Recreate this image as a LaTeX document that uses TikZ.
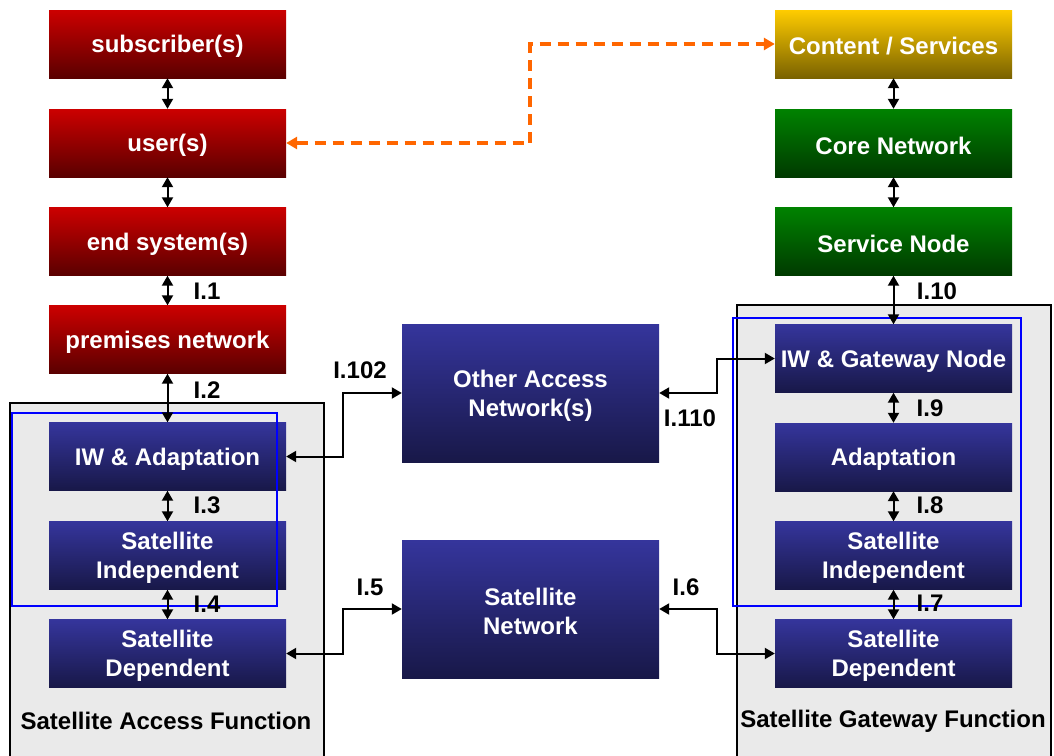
\documentclass[tikz,border=0pt]{standalone}
\usepackage{fontspec}
\setmainfont{Liberation Sans}
\usetikzlibrary{arrows.meta}
\definecolor{redT}{HTML}{CC0000}
\definecolor{redB}{HTML}{5A0000}
\definecolor{bluT}{HTML}{35359C}
\definecolor{bluB}{HTML}{181848}
\definecolor{grnT}{HTML}{008200}
\definecolor{grnB}{HTML}{003A00}
\definecolor{ylwT}{HTML}{FFCC00}
\definecolor{ylwB}{HTML}{7A6200}
\definecolor{panel}{HTML}{EAEAEA}
\definecolor{orng}{HTML}{FF6600}
\tikzset{
  fnt/.style={font=\bfseries\fontsize{24}{29}\selectfont},
  blk/.style={inner sep=0pt, minimum width=237pt, minimum height=68pt},
  txt/.style={fnt, text=white, align=center, inner sep=0pt, yshift=-2.5pt},
  redbox/.style={blk, top color=redT, bottom color=redB},
  blubox/.style={blk, top color=bluT, bottom color=bluB},
  grnbox/.style={blk, top color=grnT, bottom color=grnB},
  ylwbox/.style={blk, top color=ylwT, bottom color=ylwB},
  midbox/.style={blubox, minimum width=257pt, minimum height=138pt},
  lbl/.style={fnt, text=black, inner sep=0pt},
  tip/.style={Triangle[length=10pt,width=11pt]},
  link/.style={line width=2pt, {Triangle[length=10pt,width=11pt]}-{Triangle[length=10pt,width=11pt]}},
  dlink/.style={line width=3.5pt, orng, dash pattern=on 11pt off 7pt, {Triangle[length=11pt,width=12pt]}-{Triangle[length=11pt,width=12pt]}},
  panelbox/.style={fill=panel, draw=black, line width=1.5pt},
  grp/.style={draw=blue, line width=1.5pt}
}
\begin{document}
\begin{tikzpicture}[x=1pt,y=-1pt]
\useasboundingbox (0,0) rectangle (1054,755);
\clip (0,0) rectangle (1054,755);
% panels
\draw[panelbox] (10,403) rectangle (324,770);
\draw[panelbox] (737,305) rectangle (1051,770);
\node[lbl] (saf) at (166,721) {Satellite Access Function};
\node[lbl] (sgf) at (893,721) {Satellite Gateway Function};
% left column
\node[redbox, label={[txt]center:subscriber(s)}] (sub) at (167.5,44) {};
\node[redbox, label={[txt]center:user(s)}] (user) at (167.5,143) {};
\node[redbox, label={[txt]center:end system(s)}] (endsys) at (167.5,241.5) {};
\node[redbox, label={[txt]center:premises network}] (prem) at (167.5,339.5) {};
\node[blubox, label={[txt]center:IW \& Adaptation}] (iwad) at (167.5,456.5) {};
\node[blubox, label={[txt]center:Satellite\\Independent}] (sind) at (167.5,555.5) {};
\node[blubox, label={[txt]center:Satellite\\Dependent}] (sdep) at (167.5,653.5) {};
% right column
\node[ylwbox, label={[txt]center:Content / Services}] (content) at (893.5,44) {};
\node[grnbox, label={[txt]center:Core Network}] (core) at (893.5,143) {};
\node[grnbox, label={[txt]center:Service Node}] (service) at (893.5,241.5) {};
\node[blubox, label={[txt]center:IW \& Gateway Node}] (iwgw) at (893.5,358.5) {};
\node[blubox, label={[txt]center:Adaptation}] (adapt) at (893.5,457) {};
\node[blubox, label={[txt]center:Satellite\\Independent}] (rsind) at (893.5,555.5) {};
\node[blubox, label={[txt]center:Satellite\\Dependent}] (rsdep) at (893.5,653.5) {};
% middle
\node[midbox, label={[txt]center:Other Access\\Network(s)}] (oan) at (530.5,393) {};
\node[midbox, label={[txt]center:Satellite\\Network}] (satnet) at (530.5,609) {};
% group outlines
\draw[grp] (12,413) rectangle (277,606);
\draw[grp] (733,318) rectangle (1021,606);
% vertical links
\draw[link] (sub.south) -- (user.north);
\draw[link] (user.south) -- (endsys.north);
\draw[link] (endsys.south) -- (prem.north);
\draw[link] (prem.south) -- (iwad.north);
\draw[link] (iwad.south) -- (sind.north);
\draw[link] (sind.south) -- (sdep.north);
\draw[link] (content.south) -- (core.north);
\draw[link] (core.south) -- (service.north);
\draw[link] (service.south) -- (iwgw.north);
\draw[link] (iwgw.south) -- (adapt.north);
\draw[link] (adapt.south) -- (rsind.north);
\draw[link] (rsind.south) -- (rsdep.north);
% horizontal links
\draw[link] (iwad.east) -- ++(57,0) |- (oan.west);
\draw[link] (oan.east) -- ++(58,0) |- (iwgw.west);
\draw[link] (sdep.east) -- ++(57,0) |- (satnet.west);
\draw[link] (satnet.east) -- ++(58,0) |- (rsdep.west);
\draw[dlink] (user.east) -- ++(244,0) |- (content.west);
% labels
\node[lbl] (l1) at (207,291) {I.1};
\node[lbl] (l2) at (207,390) {I.2};
\node[lbl] (l3) at (207,505) {I.3};
\node[lbl] (l4) at (207,604) {I.4};
\node[lbl] (l10) at (937,291) {I.10};
\node[lbl] (l9) at (930,408) {I.9};
\node[lbl] (l8) at (930,505) {I.8};
\node[lbl] (l7) at (930,603) {I.7};
\node[lbl] (l102) at (360,370) {I.102};
\node[lbl] (l110) at (690,418) {I.110};
\node[lbl] (l5) at (370,587) {I.5};
\node[lbl] (l6) at (686,587) {I.6};
\end{tikzpicture}
\end{document}
